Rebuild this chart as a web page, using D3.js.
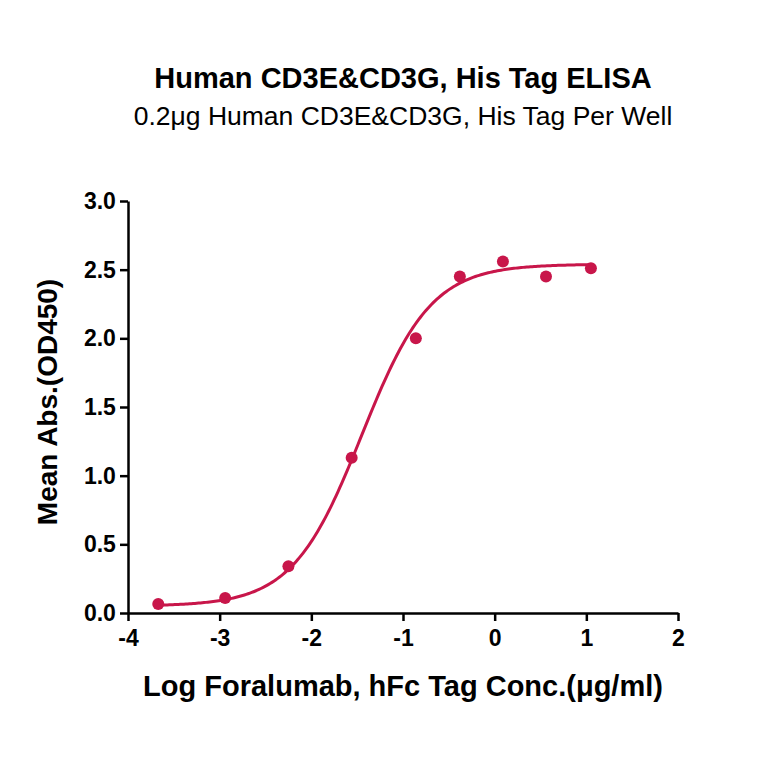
<!DOCTYPE html>
<html><head><meta charset="utf-8">
<script src="https://cdn.jsdelivr.net/npm/d3@7"></script>
<style>body{margin:0;background:#fff}text{font-family:"Liberation Sans",Arial,sans-serif}</style>
</head><body><div id="chart"></div>
<script>
var logConc = [-3.67, -2.94, -2.25, -1.56, -0.86, -0.38, 0.09, 0.56, 1.05]
var meanAbs = [0.066, 0.11, 0.34, 1.13, 2.0, 2.45, 2.56, 2.45, 2.51]
// 4PL fit parameters
var fitBottom = 0.05, fitTop = 2.54, fitLogEC50 = -1.45, fitHill = 1.15
var xTicks = [-4, -3, -2, -1, 0, 1, 2]
var yTicks = [0, 0.5, 1.0, 1.5, 2.0, 2.5, 3.0]
var color = "#c8164a"

var margin = {top: 201, right: 86, bottom: 151, left: 128},
    width = 764 - margin.left - margin.right,
    height = 764 - margin.top - margin.bottom;

var svg = d3.select("#chart").append("svg").attr("width", 764).attr("height", 764)

svg.append("text").attr("x", 403).attr("y", 88).attr("text-anchor", "middle")
  .attr("font-size", "29px").attr("font-weight", "bold").text("Human CD3E&CD3G, His Tag ELISA")
svg.append("text").attr("x", 403).attr("y", 125).attr("text-anchor", "middle")
  .attr("font-size", "26.5px").text("0.2μg Human CD3E&CD3G, His Tag Per Well")

var g = svg.append("g").attr("transform", "translate(" + margin.left + "," + margin.top + ")")

var x = d3.scaleLinear().domain([-4, 2]).range([0, width])
var y = d3.scaleLinear().domain([0, 3]).range([height, 0])

var xAxis = g.append("g").attr("transform", "translate(0," + height + ")")
  .call(d3.axisBottom(x).tickValues(xTicks).tickSize(8).tickSizeOuter(0).tickFormat(function(d){return String(d)}))
var yAxis = g.append("g")
  .call(d3.axisLeft(y).tickValues(yTicks).tickSize(8).tickSizeOuter(0).tickFormat(d3.format(".1f")))
;[xAxis, yAxis].forEach(function(a){
  a.selectAll("path,line").attr("stroke", "#000").attr("stroke-width", 2.5)
  a.selectAll("text").attr("font-size", "23px").attr("font-weight", "bold").attr("fill", "#000")
    .style("font-family", "Liberation Sans, Arial, sans-serif")
})
xAxis.selectAll("text").attr("dy", "0.95em")
yAxis.selectAll("text").attr("dx", "-0.05em")

function fourPL(v){ return fitBottom + (fitTop - fitBottom) / (1 + Math.pow(10, (fitLogEC50 - v) * fitHill)) }
var curveX = d3.range(logConc[0], logConc[logConc.length-1] + 0.001, 0.02)
g.append("path").datum(curveX)
  .attr("fill", "none").attr("stroke", color).attr("stroke-width", 3)
  .attr("d", d3.line().x(function(d){return x(d)}).y(function(d){return y(fourPL(d))}))

g.selectAll("circle").data(logConc).enter().append("circle")
  .attr("cx", function(d){return x(d)})
  .attr("cy", function(d, i){return y(meanAbs[i])})
  .attr("r", 6).attr("fill", color)

svg.append("text").attr("transform", "translate(57," + (margin.top + height/2 - 5) + ") rotate(-90)")
  .attr("text-anchor", "middle").attr("font-size", "28px").attr("font-weight", "bold")
  .text("Mean Abs.(OD450)")
svg.append("text").attr("x", 403).attr("y", 696).attr("text-anchor", "middle")
  .attr("font-size", "29px").attr("font-weight", "bold")
  .text("Log Foralumab, hFc Tag Conc.(μg/ml)")
</script></body></html>
